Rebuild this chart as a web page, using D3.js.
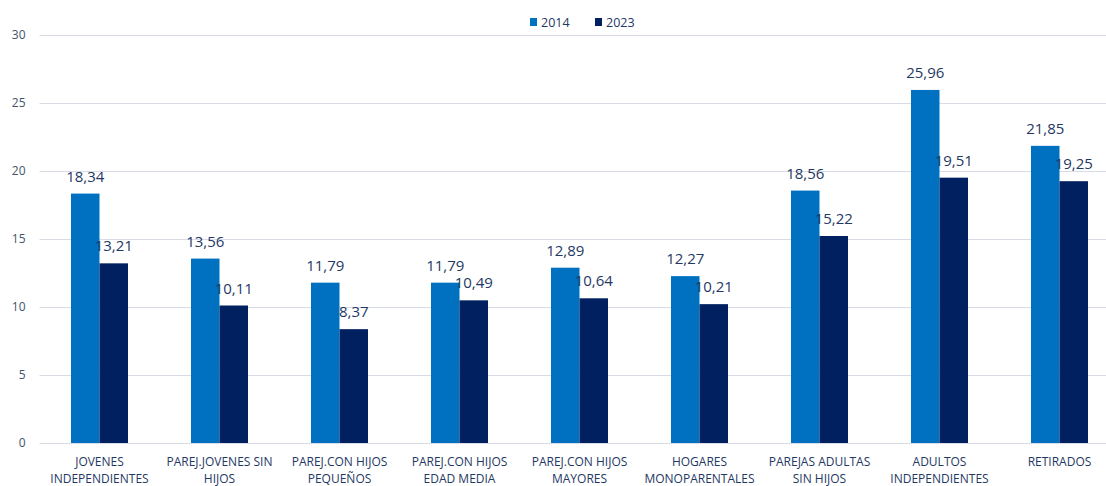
<!DOCTYPE html>
<html>
<head>
<meta charset="utf-8">
<script src="https://cdn.jsdelivr.net/npm/d3@7"></script>
<style>
  body { margin: 0; background: #fff; overflow: hidden; }
  text { font-family: "Open Sans", "Noto Sans", sans-serif; }
</style>
</head>
<body>
<svg id="chart" width="1106" height="486"></svg>
<script>
// Data
const categories = [
  ["JOVENES", "INDEPENDIENTES"],
  ["PAREJ.JOVENES SIN", "HIJOS"],
  ["PAREJ.CON HIJOS", "PEQUEÑOS"],
  ["PAREJ.CON HIJOS", "EDAD MEDIA"],
  ["PAREJ.CON HIJOS", "MAYORES"],
  ["HOGARES", "MONOPARENTALES"],
  ["PAREJAS ADULTAS", "SIN HIJOS"],
  ["ADULTOS", "INDEPENDIENTES"],
  ["RETIRADOS"]
];
const seriesNames = ["2014", "2023"];
const values2014 = [18.34, 13.56, 11.79, 11.79, 12.89, 12.27, 18.56, 25.96, 21.85];
const values2023 = [13.21, 10.11, 8.37, 10.49, 10.64, 10.21, 15.22, 19.51, 19.25];
const yTicks = [0, 5, 10, 15, 20, 25, 30];

const colors = { "2014": "#0070C0", "2023": "#002060" };
const textColor = "#1F3864";

const width = 1106, height = 486;
const margin = { top: 35, left: 39.5 };
const chartWidth = 1080; // plot area runs past the right edge of the picture
const chartHeight = 443 - margin.top;

const svg = d3.select('#chart');
const g = svg.append('g').attr('transform', `translate(${margin.left}, ${margin.top})`);

const keys = categories.map((d, i) => i);
const xScale = d3.scaleBand().domain(keys).range([0, chartWidth]);
const xInner = d3.scaleBand().domain(seriesNames).range([0, 57]);
const yScale = d3.scaleLinear().domain([0, 30]).range([chartHeight, 0]);

// gridlines
g.append('g')
  .selectAll('line')
  .data(yTicks)
  .enter()
  .append('line')
  .attr('x1', 0)
  .attr('x2', chartWidth)
  .attr('y1', d => Math.round(yScale(d)) + 0.5)
  .attr('y2', d => Math.round(yScale(d)) + 0.5)
  .attr('stroke', '#D9DCE6')
  .attr('stroke-width', 1);

// y axis labels
g.append('g')
  .call(d3.axisLeft(yScale).tickValues(yTicks).tickSize(0).tickPadding(14))
  .call(a => a.select('.domain').remove())
  .selectAll('text')
  .style('font-family', '"Open Sans", sans-serif')
  .style('font-size', '12px')
  .style('fill', '#44546A');

const rows = keys.map(i => ({ i, vals: [values2014[i], values2023[i]] }));

const groups = g.selectAll('.grp')
  .data(rows)
  .enter()
  .append('g')
  .attr('transform', d => `translate(${xScale(d.i) + xScale.bandwidth() / 2 - 28.5}, 0)`);

groups.selectAll('rect')
  .data(d => seriesNames.map((s, j) => ({ s, v: d.vals[j] })))
  .enter()
  .append('rect')
  .attr('x', d => xInner(d.s))
  .attr('y', d => yScale(d.v))
  .attr('width', xInner.bandwidth())
  .attr('height', d => chartHeight - yScale(d.v))
  .attr('fill', d => colors[d.s]);

groups.selectAll('.val')
  .data(d => seriesNames.map((s, j) => ({ s, v: d.vals[j] })))
  .enter()
  .append('text')
  .attr('x', d => xInner(d.s) + xInner.bandwidth() / 2)
  .attr('y', d => yScale(d.v) - 12)
  .attr('text-anchor', 'middle')
  .style('font-size', '15px')
  .style('fill', textColor)
  .text(d => d3.format('.2f')(d.v).replace('.', ','));

// x axis labels
const xl = g.append('g').attr('transform', `translate(0, ${chartHeight})`);
xl.selectAll('text')
  .data(rows)
  .enter()
  .append('text')
  .attr('x', d => xScale(d.i) + xScale.bandwidth() / 2)
  .attr('y', 23)
  .attr('text-anchor', 'middle')
  .style('font-size', '12px')
  .style('fill', textColor)
  .each(function (d) {
    const t = d3.select(this);
    categories[d.i].forEach((line, k) => {
      t.append('tspan')
        .attr('x', xScale(d.i) + xScale.bandwidth() / 2)
        .attr('dy', k === 0 ? 0 : 16.5)
        .text(line);
    });
  });

// legend
const legend = svg.append('g').attr('transform', 'translate(530, 22)');
seriesNames.forEach((s, j) => {
  const lg = legend.append('g').attr('transform', `translate(${j * 65}, 0)`);
  lg.append('rect').attr('x', 0).attr('y', -4).attr('width', 7).attr('height', 8).attr('fill', colors[s]);
  lg.append('text').attr('x', 11).attr('y', 4.5).style('font-size', '12.5px').style('fill', textColor).text(s);
});
</script>
</body>
</html>
